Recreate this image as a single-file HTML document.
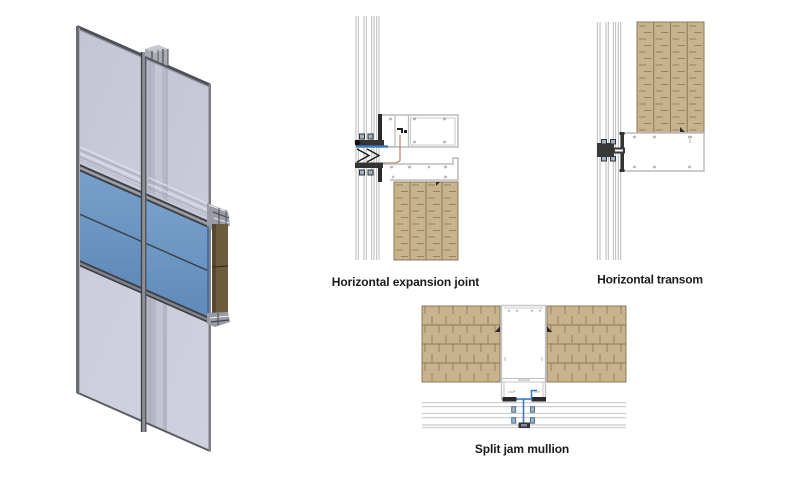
<!DOCTYPE html>
<html><head><meta charset="utf-8">
<style>
html,body{margin:0;padding:0;background:#fff;}
svg{display:block;}
text{font-family:"Liberation Sans",Arial,sans-serif;font-weight:bold;fill:#1b1b1b;}
</style></head><body>
<svg width="800" height="481" viewBox="0 0 800 481" xmlns="http://www.w3.org/2000/svg">
<defs>
<linearGradient id="blue" x1="0" y1="0" x2="0" y2="1">
<stop offset="0" stop-color="#78a0cb"/><stop offset="1" stop-color="#5f8ab9"/>
</linearGradient>
<linearGradient id="glassT" x1="0" y1="0" x2="1" y2="1">
<stop offset="0" stop-color="#c3c4d4"/><stop offset="1" stop-color="#cbccda"/>
</linearGradient>
<linearGradient id="glassB" x1="0" y1="0" x2="1" y2="1">
<stop offset="0" stop-color="#cbccda"/><stop offset="1" stop-color="#d0d1de"/>
</linearGradient>
<pattern id="bv1" x="394" y="182" width="16" height="13" patternUnits="userSpaceOnUse">
<rect width="16" height="13" fill="#c8b38d"/>
<line x1="2" y1="3" x2="9" y2="3" stroke="#8f7c5c" stroke-width="0.9"/>
<line x1="7" y1="9.5" x2="14" y2="9.5" stroke="#8f7c5c" stroke-width="0.9"/>
</pattern>
<pattern id="bv2" x="637" y="22" width="16.75" height="13" patternUnits="userSpaceOnUse">
<rect width="16.75" height="13" fill="#c8b38d"/>
<line x1="2" y1="4" x2="9" y2="4" stroke="#8f7c5c" stroke-width="0.9"/>
<line x1="7" y1="10.5" x2="14.5" y2="10.5" stroke="#8f7c5c" stroke-width="0.9"/>
</pattern>
<pattern id="bh" x="422" y="306" width="14" height="19" patternUnits="userSpaceOnUse">
<rect width="14" height="19" fill="#c8b38d"/>
<line x1="3" y1="0" x2="3" y2="8" stroke="#8f7c5c" stroke-width="0.9"/>
<line x1="10" y1="10" x2="10" y2="18" stroke="#8f7c5c" stroke-width="0.9"/>
</pattern>
</defs>

<!-- ============ 3D CURTAIN WALL ============ -->
<!-- top glass -->
<polygon points="77,26 142,54.6 142,191.6 77,163" fill="url(#glassT)"/>
<polygon points="146,56.4 210,84.5 210,221.5 146,193.4" fill="url(#glassT)"/>
<!-- inner strip top right -->
<polygon points="147,57 167,66 167,201 147,192" fill="#b6b8c7"/>
<polygon points="155,60.5 162,63.6 162,199 155,196" fill="#c4c6d3"/>
<line x1="150" y1="58" x2="150" y2="192" stroke="#a3a5b4" stroke-width="0.8"/>
<line x1="167" y1="66" x2="167" y2="201" stroke="#9ea0ae" stroke-width="0.8"/>
<!-- sill lines top panels -->
<g stroke-width="1" fill="none">
<line x1="80" y1="147" x2="141" y2="173.8" stroke="#e4e4ee"/>
<line x1="80" y1="150" x2="141" y2="176.8" stroke="#a5a7b6"/>
<line x1="80" y1="153.5" x2="141" y2="180.3" stroke="#e4e4ee"/>
<line x1="80" y1="157" x2="141" y2="183.8" stroke="#a5a7b6"/>
<line x1="80" y1="160" x2="141" y2="186.8" stroke="#b8bac8"/>
<line x1="148" y1="177.3" x2="208" y2="203.7" stroke="#e4e4ee"/>
<line x1="148" y1="180.3" x2="208" y2="206.7" stroke="#a5a7b6"/>
<line x1="148" y1="183.8" x2="208" y2="210.2" stroke="#e4e4ee"/>
<line x1="148" y1="187.3" x2="208" y2="213.7" stroke="#a5a7b6"/>
<line x1="148" y1="190.3" x2="208" y2="216.7" stroke="#b8bac8"/>
</g>
<!-- blue -->
<polygon points="77,170 142,198.6 142,287.6 77,259" fill="url(#blue)"/>
<polygon points="146,200.4 208,227.7 208,316.7 146,289.4" fill="url(#blue)"/>
<line x1="77" y1="213" x2="142" y2="241.6" stroke="#3a3f4a" stroke-width="1.4"/>
<line x1="146" y1="243.4" x2="208" y2="270.7" stroke="#3a3f4a" stroke-width="1.4"/>
<!-- lower glass -->
<polygon points="77,265 142,293.6 142,421.6 77,393" fill="url(#glassB)"/>
<polygon points="146,295.4 210,323.5 210,451.5 146,423.4" fill="url(#glassB)"/>
<polygon points="147,296 167,304.8 167,432 147,424" fill="#b4b6c4"/>
<polygon points="156,300 163,303 163,430 156,427" fill="#c3c5d2"/>
<line x1="150" y1="297" x2="150" y2="425" stroke="#a0a2b1" stroke-width="0.8"/>
<!-- transom band -->
<polygon points="77,163 142,191.6 142,198.6 77,170" fill="#85878f"/>
<polygon points="146,193.4 210,221.5 210,228.5 146,200.4" fill="#85878f"/>
<line x1="77" y1="163.8" x2="210" y2="222.3" stroke="#3c3e45" stroke-width="1.8"/>
<line x1="77" y1="169.2" x2="210" y2="227.7" stroke="#3c3e45" stroke-width="1.8"/>
<line x1="77" y1="166.5" x2="210" y2="225" stroke="#b4b6be" stroke-width="0.8"/>
<!-- blue bottom band -->
<polygon points="77,259 142,287.6 142,293.6 77,265" fill="#80828a"/>
<polygon points="146,289.4 210,317.5 210,323.5 146,295.4" fill="#80828a"/>
<line x1="77" y1="259.8" x2="210" y2="318.3" stroke="#3c3e45" stroke-width="1.8"/>
<line x1="77" y1="264.4" x2="210" y2="322.9" stroke="#3c3e45" stroke-width="1.6"/>
<!-- top edge -->
<line x1="77" y1="26.5" x2="210" y2="85" stroke="#4f5158" stroke-width="3"/>
<line x1="77" y1="28.8" x2="210" y2="87.3" stroke="#8e9098" stroke-width="1"/>
<!-- bottom edge -->
<line x1="77" y1="392.5" x2="210" y2="451" stroke="#5a5c63" stroke-width="2"/>
<!-- left edge -->
<rect x="76" y="26" width="3" height="367" fill="#6a6c74"/>
<line x1="79.5" y1="28" x2="79.5" y2="393" stroke="#a9abb6" stroke-width="1"/>
<!-- right edge -->
<rect x="208.5" y="84" width="2.5" height="367.5" fill="#7d7f87"/>
<!-- mullion -->
<rect x="141" y="52" width="5.5" height="380" fill="#8c8e96"/>
<line x1="141.5" y1="52" x2="141.5" y2="432" stroke="#3e4047" stroke-width="1.3"/>
<line x1="145.8" y1="54" x2="145.8" y2="432" stroke="#4a4c53" stroke-width="1.2"/>
<!-- mullion top protrusion -->
<polygon points="145,49 158,45 168,49 168,66 145,56" fill="#a9abb5"/>
<polygon points="145,49 158,45 168,49 155,53" fill="#c6c8d0"/>
<line x1="152" y1="51" x2="152" y2="59" stroke="#4a4c53" stroke-width="1.2"/>
<line x1="158" y1="50" x2="158" y2="62" stroke="#5a5c63" stroke-width="1"/>
<line x1="163" y1="49" x2="163" y2="64" stroke="#4a4c53" stroke-width="1.2"/>
<line x1="168" y1="49" x2="168" y2="66" stroke="#4a4c53" stroke-width="1"/>
<!-- right side profile at transom -->
<polygon points="207,203 228,211 230,226 213,230 207,228" fill="#9a9ca5"/>
<line x1="209" y1="205" x2="228" y2="212" stroke="#f0f0f4" stroke-width="1"/>
<line x1="213" y1="212" x2="229" y2="218" stroke="#45474e" stroke-width="1.2"/>
<line x1="214" y1="218" x2="229" y2="223" stroke="#e8e8ee" stroke-width="1"/>
<line x1="219" y1="208" x2="219" y2="226" stroke="#45474e" stroke-width="1"/>
<line x1="226" y1="210" x2="226" y2="225" stroke="#55575e" stroke-width="1"/>
<!-- brown box -->
<rect x="212" y="224" width="16" height="92" fill="#6e5a3c"/>
<rect x="212" y="224" width="4" height="92" fill="#574630"/>
<line x1="212" y1="267" x2="228" y2="266" stroke="#3b2f20" stroke-width="1.2"/>
<rect x="207" y="226" width="2" height="92" fill="#4a6f9e"/>
<!-- bottom profile -->
<polygon points="207,313 228,312 230,322 215,327 207,324" fill="#9a9ca5"/>
<line x1="210" y1="318" x2="229" y2="316" stroke="#f0f0f4" stroke-width="1"/>
<line x1="211" y1="322" x2="229" y2="320" stroke="#45474e" stroke-width="1.2"/>
<line x1="218" y1="313" x2="218" y2="325" stroke="#45474e" stroke-width="1"/>

<!-- ============ HORIZONTAL EXPANSION JOINT ============ -->
<g stroke="#b3b3b3" stroke-width="0.9">
<line x1="356" y1="16" x2="356" y2="260"/>
<line x1="358.3" y1="16" x2="358.3" y2="260"/>
<line x1="364" y1="16" x2="364" y2="260"/>
<line x1="366.3" y1="16" x2="366.3" y2="260"/>
<line x1="371.7" y1="16" x2="371.7" y2="260"/>
<line x1="374" y1="16" x2="374" y2="260"/>
<line x1="376.7" y1="16" x2="376.7" y2="260"/>
<line x1="379" y1="16" x2="379" y2="260"/>
</g>
<!-- upper box -->
<rect x="380" y="115" width="78" height="32" fill="#fff" stroke="#bcbcbc" stroke-width="1.5"/>
<line x1="395" y1="115" x2="395" y2="147" stroke="#bcbcbc" stroke-width="1.3"/>
<line x1="408.5" y1="115" x2="408.5" y2="147" stroke="#bcbcbc" stroke-width="1.3"/>
<rect x="410.5" y="118" width="44.5" height="27" fill="none" stroke="#c8c8c8" stroke-width="1"/>
<g stroke="#9a9a9a" stroke-width="0.8" fill="none">
<path d="M389,118 l1,2 l1,-2 l1,2"/><path d="M413,118 l1,2 l1,-2 l1,2"/><path d="M443,118 l1,2 l1,-2 l1,2"/>
<path d="M413,143 l1,-2 l1,2 l1,-2"/><path d="M443,143 l1,-2 l1,2 l1,-2"/>
</g>
<path d="M397,128 h6 v5 h-2 v-3 h-4 z" fill="#1f1f1f"/>
<rect x="404" y="130" width="3" height="3" fill="#1f1f1f"/>
<!-- brown line -->
<path d="M400,135 V161 L396,163 H383" fill="none" stroke="#b06a4a" stroke-width="1"/>
<!-- upper connector -->
<rect x="378" y="114" width="4" height="29" fill="#2a2a2a"/>
<rect x="355" y="140" width="29" height="5.5" fill="#333"/>
<circle cx="357.5" cy="142.5" r="2.8" fill="#111"/>
<rect x="359.5" y="134" width="5" height="5" fill="#9fb4c8" stroke="#333" stroke-width="1"/>
<rect x="368" y="134" width="5" height="5" fill="#9fb4c8" stroke="#333" stroke-width="1"/>
<rect x="356" y="145.3" width="32" height="2.4" fill="#3b79c0"/>
<line x1="388" y1="146.5" x2="396" y2="146.5" stroke="#bcbcbc" stroke-width="1"/>
<!-- zigzag -->
<polyline points="357,149 369,155.5 357,162" fill="none" stroke="#1a1a1a" stroke-width="1.4"/>
<polyline points="367,149 379,155.5 367,162" fill="none" stroke="#1a1a1a" stroke-width="1.4"/>
<!-- lower connector -->
<rect x="355" y="162.5" width="28" height="5.5" fill="#333"/>
<rect x="359.5" y="170" width="5" height="5" fill="#9fb4c8" stroke="#333" stroke-width="1"/>
<rect x="368" y="170" width="5" height="5" fill="#9fb4c8" stroke="#333" stroke-width="1"/>
<rect x="378" y="168" width="4" height="14" fill="#2a2a2a"/>
<!-- lower box -->
<path d="M383,164 H453 V158 H458 V180 H390" fill="none" stroke="#bcbcbc" stroke-width="1.5"/>
<g stroke="#9a9a9a" stroke-width="0.8" fill="none">
<path d="M390,166 l1,2 l1,-2 l1,2"/><path d="M408,166 l1,2 l1,-2 l1,2"/><path d="M428,166 l1,2 l1,-2"/><path d="M444,166 l1,2 l1,-2 l1,2"/>
<path d="M392,178 l1,-2 l1,2"/><path d="M444,178 l1,-2 l1,2 l1,-2"/>
</g>
<!-- brick -->
<rect x="394" y="182" width="64" height="78" fill="url(#bv1)" stroke="#8a7858" stroke-width="1"/>
<g stroke="#8a7858" stroke-width="1">
<line x1="410" y1="182" x2="410" y2="260"/><line x1="426" y1="182" x2="426" y2="260"/><line x1="442" y1="182" x2="442" y2="260"/>
</g>
<polygon points="436,182 440,182 436,186" fill="#2a2a2a"/>
<text x="405.5" y="286" font-size="12" text-anchor="middle" letter-spacing="-0.1">Horizontal expansion joint</text>

<!-- ============ HORIZONTAL TRANSOM ============ -->
<g stroke="#b3b3b3" stroke-width="0.9">
<line x1="597.3" y1="22" x2="597.3" y2="260"/>
<line x1="600" y1="22" x2="600" y2="260"/>
<line x1="606" y1="22" x2="606" y2="260"/>
<line x1="608.3" y1="22" x2="608.3" y2="260"/>
<line x1="613.3" y1="22" x2="613.3" y2="260"/>
<line x1="615.7" y1="22" x2="615.7" y2="260"/>
<line x1="618.3" y1="22" x2="618.3" y2="260"/>
<line x1="620.7" y1="22" x2="620.7" y2="260"/>
</g>
<rect x="637" y="22" width="67" height="111" fill="url(#bv2)" stroke="#8a7858" stroke-width="1"/>
<g stroke="#8a7858" stroke-width="1">
<line x1="653.75" y1="22" x2="653.75" y2="133"/><line x1="670.5" y1="22" x2="670.5" y2="133"/><line x1="687.25" y1="22" x2="687.25" y2="133"/>
</g>
<polygon points="680,127 685,132 680,132" fill="#2a2a2a"/>
<rect x="623" y="133" width="81" height="38" fill="#fff" stroke="#bcbcbc" stroke-width="1.5"/>
<g stroke="#9a9a9a" stroke-width="0.8" fill="none">
<path d="M633,136 l1,2 l1,-2 l1,2"/><path d="M653,136 l1,2 l1,-2 l1,2"/><path d="M688,136 l1,2 l1,-2 l1,2 l1,-2"/>
<path d="M633,168 l1,-2 l1,2 l1,-2"/><path d="M653,168 l1,-2 l1,2 l1,-2"/><path d="M688,168 l1,-2 l1,2 l1,-2"/>
<line x1="690" y1="139" x2="690" y2="143"/>
</g>
<rect x="620.5" y="133" width="3.5" height="39" fill="#333"/>
<rect x="619.5" y="132" width="5" height="3" fill="#333"/>
<rect x="619.5" y="169" width="5" height="3" fill="#333"/>
<rect x="597" y="143" width="17" height="14" fill="#383838"/>
<rect x="613" y="147.5" width="12" height="6" fill="#383838"/>
<rect x="615" y="149.5" width="8" height="2" fill="#fff"/>
<rect x="601.5" y="139.5" width="5" height="4.5" fill="#9fb4c8" stroke="#333" stroke-width="1"/>
<rect x="610.5" y="139.5" width="5" height="4.5" fill="#9fb4c8" stroke="#333" stroke-width="1"/>
<rect x="601.5" y="156.5" width="5" height="4.5" fill="#9fb4c8" stroke="#333" stroke-width="1"/>
<rect x="610.5" y="156.5" width="5" height="4.5" fill="#9fb4c8" stroke="#333" stroke-width="1"/>
<text x="650" y="283.5" font-size="12" text-anchor="middle" letter-spacing="-0.2">Horizontal transom</text>

<!-- ============ SPLIT JAM MULLION ============ -->
<g stroke="#bcbcbc" stroke-width="0.9">
<line x1="422" y1="402.7" x2="626" y2="402.7"/>
<line x1="422" y1="406.7" x2="626" y2="406.7"/>
<line x1="422" y1="413.3" x2="626" y2="413.3"/>
<line x1="422" y1="417.7" x2="626" y2="417.7"/>
<line x1="422" y1="425" x2="626" y2="425"/>
<line x1="422" y1="427.7" x2="626" y2="427.7"/>
</g>
<rect x="422" y="306" width="78" height="76" fill="url(#bh)" stroke="#8a7858" stroke-width="1"/>
<rect x="547" y="306" width="79" height="76" fill="url(#bh)" stroke="#8a7858" stroke-width="1"/>
<g stroke="#8a7858" stroke-width="1">
<line x1="422" y1="325" x2="500" y2="325"/><line x1="422" y1="344" x2="500" y2="344"/><line x1="422" y1="363" x2="500" y2="363"/>
<line x1="547" y1="325" x2="626" y2="325"/><line x1="547" y1="344" x2="626" y2="344"/><line x1="547" y1="363" x2="626" y2="363"/>
</g>
<rect x="501.5" y="305.5" width="44" height="94" fill="#fff" stroke="#c4c4c4" stroke-width="1.4"/>
<line x1="504" y1="308" x2="543" y2="308" stroke="#c8c8c8" stroke-width="1"/>
<line x1="501.5" y1="378.5" x2="545.5" y2="378.5" stroke="#c4c4c4" stroke-width="1.2"/>
<line x1="501.5" y1="382" x2="545.5" y2="382" stroke="#c4c4c4" stroke-width="1"/>
<g stroke="#9a9a9a" stroke-width="0.7" fill="none">
<path d="M508,310 l1,1.5 l1,-1.5"/><path d="M516,310 l1,1.5 l1,-1.5"/><path d="M531,310 l1,1.5 l1,-1.5"/><path d="M539,310 l1,1.5 l1,-1.5"/>
<path d="M518,380 h12"/><path d="M505,357 v4"/><path d="M542,357 v4"/>
<path d="M508,392 h6 l1,-2"/><path d="M534,392 h6"/>
</g>
<line x1="504" y1="382" x2="504" y2="398" stroke="#c4c4c4" stroke-width="1"/>
<line x1="543" y1="382" x2="543" y2="398" stroke="#c4c4c4" stroke-width="1"/>
<polygon points="500,326 500,332 495,332" fill="#2a2a2a"/>
<polygon points="547,326 547,332 552,332" fill="#2a2a2a"/>
<rect x="502.5" y="397" width="14" height="4.5" fill="#2a2a2a"/>
<rect x="531.5" y="397" width="14.5" height="4.5" fill="#2a2a2a"/>
<path d="M516.5,399 H531.5 V390.5 H537" fill="none" stroke="#3b79c0" stroke-width="1.6"/>
<line x1="523.5" y1="399" x2="523.5" y2="428" stroke="#3b79c0" stroke-width="1.6"/>
<rect x="511.7" y="406.7" width="4" height="5.5" fill="#9fb4c8" stroke="#4f6f93" stroke-width="1"/>
<rect x="511.7" y="417.7" width="4" height="5.5" fill="#9fb4c8" stroke="#4f6f93" stroke-width="1"/>
<rect x="530.5" y="406.7" width="4" height="5.5" fill="#9fb4c8" stroke="#4f6f93" stroke-width="1"/>
<rect x="530.5" y="417.7" width="4" height="5.5" fill="#9fb4c8" stroke="#4f6f93" stroke-width="1"/>
<rect x="518.5" y="422.5" width="11.5" height="5.5" fill="#333"/>
<rect x="521" y="424" width="6" height="2.5" fill="#7f8fa3"/>
<text x="522" y="453" font-size="12" text-anchor="middle" letter-spacing="-0.1">Split jam mullion</text>
</svg>
</body></html>
